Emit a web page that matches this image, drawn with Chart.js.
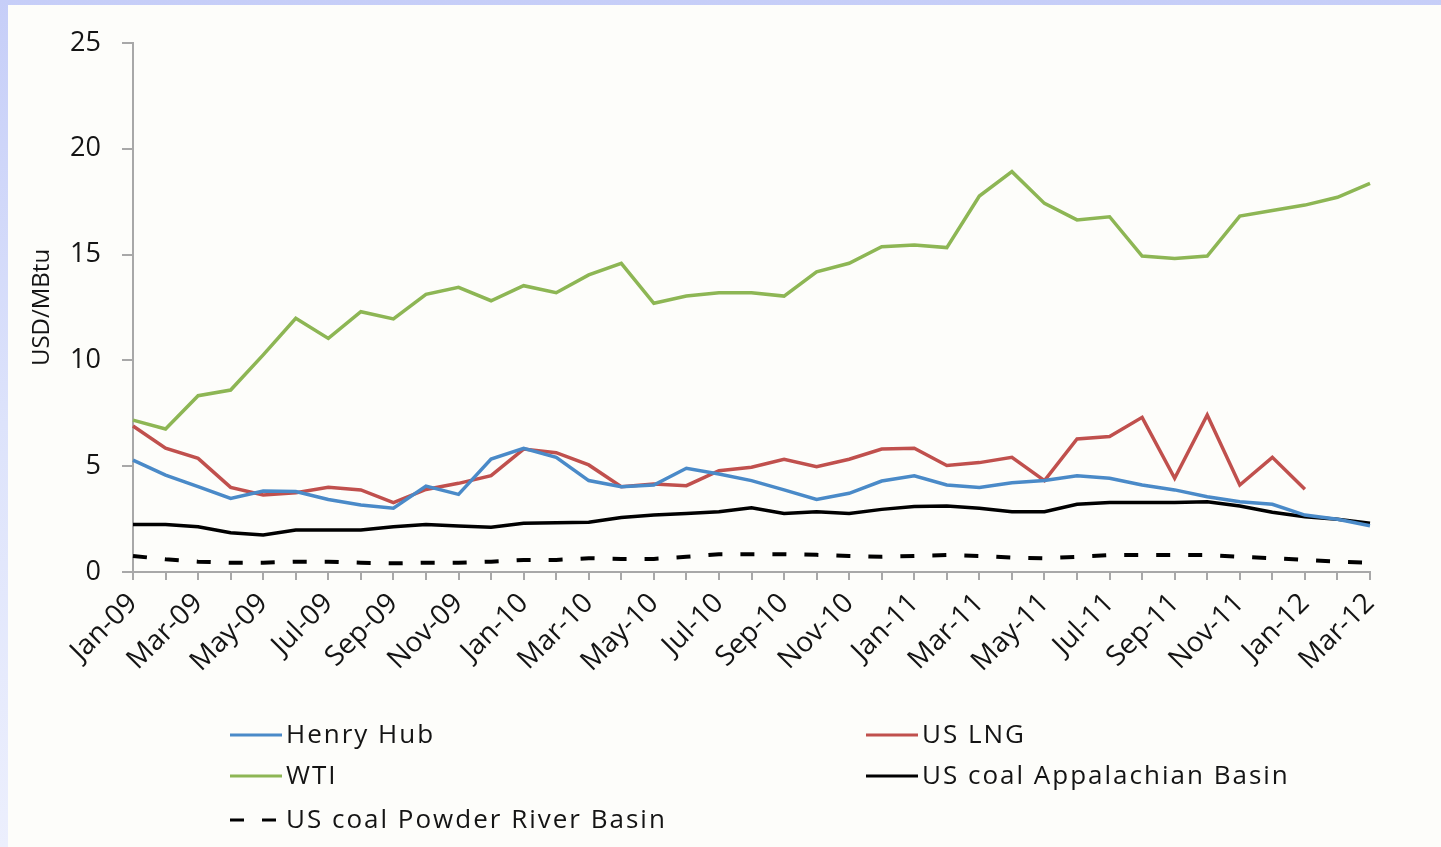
<!DOCTYPE html>
<html>
<head>
<meta charset="utf-8">
<script src="https://cdn.jsdelivr.net/npm/chart.js@4/dist/chart.umd.min.js"></script>
<style>
  html, body { margin: 0; padding: 0; }
  body {
    width: 1441px; height: 847px; overflow: hidden;
    background: linear-gradient(to bottom, #c6cef8 0%, #dde3fb 50%, #eceffd 100%);
    position: relative;
  }
  #panel {
    position: absolute; left: 8px; top: 5px; width: 1433px; height: 842px;
    background: #fdfdfa;
  }
</style>
</head>
<body>
<div id="panel"><canvas id="chart"></canvas></div>
<script>
// months, Jan-09 .. Mar-12
var months = ['Jan-09','Feb-09','Mar-09','Apr-09','May-09','Jun-09','Jul-09','Aug-09','Sep-09','Oct-09','Nov-09','Dec-09',
              'Jan-10','Feb-10','Mar-10','Apr-10','May-10','Jun-10','Jul-10','Aug-10','Sep-10','Oct-10','Nov-10','Dec-10',
              'Jan-11','Feb-11','Mar-11','Apr-11','May-11','Jun-11','Jul-11','Aug-11','Sep-11','Oct-11','Nov-11','Dec-11',
              'Jan-12','Feb-12','Mar-12'];

// USD/MBtu
var henryHub = [5.29,4.58,4.03,3.48,3.83,3.80,3.43,3.17,3.01,4.06,3.67,5.34,
                5.85,5.42,4.32,4.03,4.11,4.90,4.63,4.32,3.88,3.43,3.72,4.30,
                4.55,4.11,3.99,4.22,4.32,4.55,4.43,4.11,3.88,3.56,3.32,3.20,
                2.69,2.49,2.19];
var usLng = [6.90,5.85,5.37,4.00,3.64,3.75,4.00,3.88,3.28,3.90,4.19,4.55,
             5.81,5.64,5.06,4.03,4.16,4.08,4.79,4.95,5.33,4.98,5.33,5.81,
             5.85,5.03,5.17,5.42,4.32,6.29,6.40,7.31,4.43,7.42,4.11,5.42,
             3.91,null,null];
var wti = [7.18,6.76,8.33,8.60,10.26,11.99,11.04,12.30,11.96,13.12,13.45,12.82,
           13.53,13.20,14.04,14.59,12.70,13.04,13.20,13.20,13.04,14.19,14.59,15.37,
           15.45,15.33,17.77,18.92,17.42,16.64,16.79,14.93,14.82,14.93,16.82,17.08,
           17.34,17.71,18.37];
var coalAppalachian = [2.25,2.25,2.14,1.86,1.75,1.98,1.98,1.98,2.14,2.25,2.17,2.11,
                       2.30,2.33,2.35,2.58,2.69,2.77,2.85,3.04,2.77,2.85,2.77,2.96,
                       3.09,3.12,3.01,2.85,2.85,3.20,3.28,3.28,3.28,3.32,3.12,2.82,
                       2.61,2.49,2.30];
var coalPowderRiver = [0.76,0.60,0.49,0.44,0.44,0.49,0.49,0.44,0.41,0.44,0.44,0.49,
                       0.57,0.57,0.65,0.62,0.62,0.72,0.84,0.84,0.84,0.81,0.76,0.72,
                       0.76,0.80,0.76,0.68,0.65,0.72,0.80,0.80,0.80,0.80,0.72,0.65,
                       0.57,0.49,0.44];

var yTicks = [0, 5, 10, 15, 20, 25];

var textColor = '#141414';
var axisColor = '#a8a8a8';
Chart.defaults.font.family = '"Open Sans", sans-serif';
Chart.defaults.color = textColor;

/**
 * legend in two columns below the axis, like the original
 */
var legendSlots = [[222, 730], [858, 730], [222, 771], [858, 771], [222, 815]];
var columnLegend = {
    id: 'columnLegend',
    afterDraw: function(chart) {
        var ctx = chart.ctx;
        chart.data.datasets.forEach(function(ds, i) {
            var x = legendSlots[i][0], y = legendSlots[i][1];
            ctx.save();
            ctx.strokeStyle = ds.borderColor;
            ctx.lineWidth = 3;
            ctx.setLineDash(ds.borderDash || []);
            ctx.beginPath();
            ctx.moveTo(x, y);
            ctx.lineTo(x + 52, y);
            ctx.stroke();
            ctx.setLineDash([]);
            ctx.font = '26px "Open Sans", sans-serif';
            if ('letterSpacing' in ctx) ctx.letterSpacing = '2px';
            ctx.fillStyle = textColor;
            ctx.textBaseline = 'middle';
            ctx.fillText(ds.label, x + 56, y + 1);
            ctx.restore();
        });
    }
};

new Chart(document.getElementById('chart').getContext('2d'), {
    type: 'line',
    data: {
        labels: months,
        datasets: [
            { label: 'Henry Hub', data: henryHub, borderColor: '#4a8ac8', borderWidth: 3.5 },
            { label: 'US LNG', data: usLng, borderColor: '#c0504d', borderWidth: 3.5 },
            { label: 'WTI', data: wti, borderColor: '#8db654', borderWidth: 3.5 },
            { label: 'US coal Appalachian Basin', data: coalAppalachian, borderColor: '#000000', borderWidth: 3.5 },
            { label: 'US coal Powder River Basin', data: coalPowderRiver, borderColor: '#000000', borderWidth: 4, borderDash: [14, 18] }
        ]
    },
    options: {
        responsive: true,
        maintainAspectRatio: false,
        devicePixelRatio: 1,
        animation: false,
        layout: { padding: { top: 38, right: 71, left: 0, bottom: 0 } },
        elements: {
            point: { radius: 0 },
            line: { tension: 0, borderCapStyle: 'butt' }
        },
        plugins: {
            legend: { display: false },
            tooltip: { enabled: false }
        },
        scales: {
            x: {
                offset: false,
                afterFit: function(s) { s.height = 275; },
                grid: { drawOnChartArea: false, drawTicks: true, tickLength: 8, color: axisColor, lineWidth: 2 },
                border: { color: axisColor, width: 2 },
                ticks: {
                    autoSkip: false,
                    minRotation: 45,
                    maxRotation: 45,
                    padding: 7,
                    font: { size: 28 },
                    color: textColor,
                    callback: function(v, i) { return i % 2 === 0 ? months[i] : ''; }
                }
            },
            y: {
                min: yTicks[0],
                max: yTicks[yTicks.length - 1],
                afterFit: function(s) { s.width = 125; },
                afterBuildTicks: function(s) { s.ticks = yTicks.map(function(v) { return { value: v }; }); },
                grid: { drawOnChartArea: false, drawTicks: true, tickLength: 11, color: axisColor, lineWidth: 2 },
                border: { color: axisColor, width: 2 },
                ticks: { padding: 21, font: { size: 27 }, color: textColor },
                title: {
                    display: true,
                    text: 'USD/MBtu',
                    font: { size: 24 },
                    color: textColor,
                    padding: { top: 20, bottom: 0 }
                }
            }
        }
    },
    plugins: [columnLegend]
});
</script>
</body>
</html>
